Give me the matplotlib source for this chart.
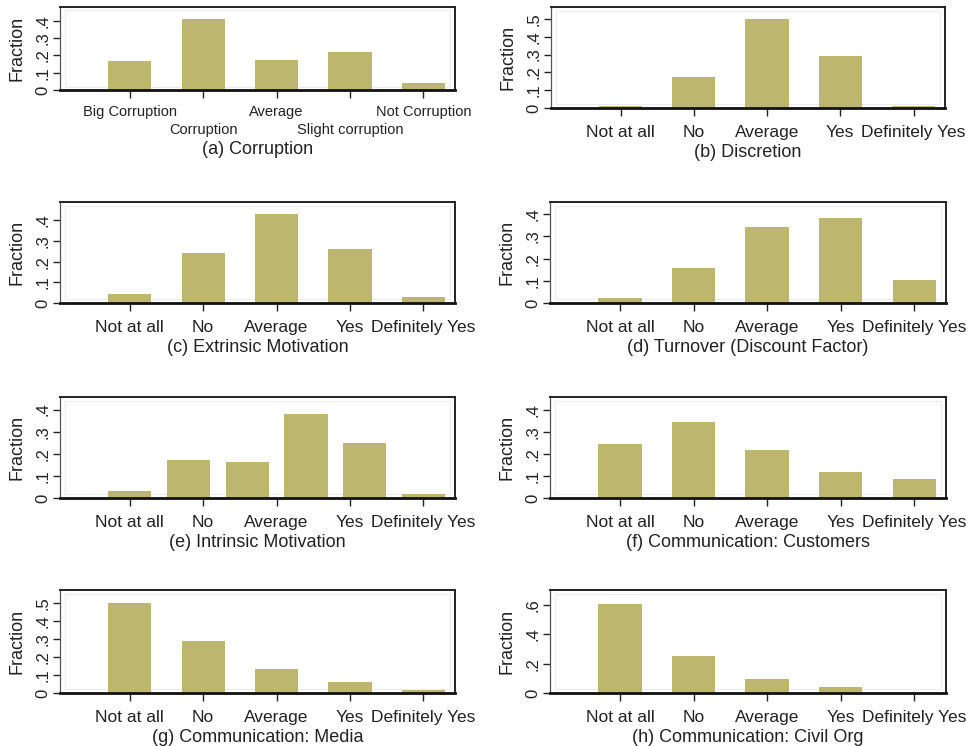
import numpy as np
import matplotlib
matplotlib.use("Agg")
import matplotlib.pyplot as plt
from matplotlib.patches import Rectangle

plt.rcParams['font.family'] = ['Liberation Sans', 'DejaVu Sans']

BAR_COLOR = '#bcb66f'

corruption_cats = ['Big Corruption', 'Corruption', 'Average',
                   'Slight corruption', 'Not Corruption']
yesno_cats = ['Not at all', 'No', 'Average', 'Yes', 'Definitely Yes']

corruption = [0.167, 0.41, 0.173, 0.221, 0.038]
discretion = [0.013, 0.174, 0.502, 0.294, 0.009]
extrinsic = [0.045, 0.24, 0.43, 0.26, 0.027]
turnover = [0.022, 0.157, 0.343, 0.385, 0.104]
intrinsic = [0.03, 0.172, 0.162, 0.382, 0.25, 0.018]
customers = [0.244, 0.348, 0.22, 0.117, 0.085]
media = [0.50, 0.29, 0.133, 0.061, 0.018]
civil_org = [0.607, 0.252, 0.097, 0.04, 0.003]

titles = ['(a) Corruption', '(b) Discretion', '(c) Extrinsic Motivation',
          '(d) Turnover (Discount Factor)', '(e) Intrinsic Motivation',
          '(f) Communication: Customers', '(g) Communication: Media',
          '(h) Communication: Civil Org']

W, H = 973, 746
fig = plt.figure(figsize=(W / 100, H / 100), dpi=100)


def axes_px(left, right, top, bottom):
    return fig.add_axes([left / W, 1 - bottom / H, (right - left) / W, (bottom - top) / H])


def fmt(v):
    s = ('%g' % round(v, 2))
    return s.replace('0.', '.') if v > 0 else '0'


def panel(ax, values, cats, title, ymax, yticks, staggered=False):
    n = len(values)
    xs = np.arange(1, 6) if n == 5 else np.linspace(1, 5, n)
    ax.bar(xs, values, width=0.59, color=BAR_COLOR, edgecolor='none', zorder=2)
    ax.set_xlim(0.05, 5.43)
    ax.set_ylim(0, ymax)
    ax.add_patch(Rectangle((0.012, 0.035), 0.976, 0.93, transform=ax.transAxes,
                           fill=False, edgecolor='#ececec', lw=0.8, zorder=1))
    ax.set_xticks(np.arange(1, 6))
    ax.tick_params(axis='x', length=6, width=1.0, color='#222222')
    if staggered:
        ax.set_xticklabels(cats, fontsize=10.5, color='#222222')
        # alternate labels drop to a second row so they don't collide
        for i, tick in enumerate(ax.xaxis.get_major_ticks()):
            tick.set_pad(5 if i % 2 == 0 else 18)
    else:
        ax.set_xticklabels(cats, fontsize=12.5, color='#222222')
        ax.tick_params(axis='x', pad=6)
    ax.set_yticks(yticks)
    ax.set_yticklabels([fmt(t) for t in yticks], rotation=90, va='center',
                       fontsize=12, color='#222222')
    ax.tick_params(axis='y', length=5, width=1.0, pad=2, color='#222222')
    ax.set_ylabel('Fraction', fontsize=13, labelpad=7, color='#222222')
    ax.set_xlabel(title, fontsize=13, labelpad=3, color='#222222')
    for side in ['top', 'right']:
        ax.spines[side].set_linewidth(1.4)
        ax.spines[side].set_color('#222222')
    ax.spines['left'].set_linewidth(0.9)
    ax.spines['left'].set_color('#555555')
    ax.spines['bottom'].set_linewidth(2.0)
    ax.spines['bottom'].set_color('#111111')


t4 = [0, 0.1, 0.2, 0.3, 0.4]
t5 = [0, 0.1, 0.2, 0.3, 0.4, 0.5]

ax = axes_px(60, 455, 7, 90)
panel(ax, corruption, corruption_cats, titles[0], 0.48, t4, staggered=True)
ax = axes_px(551, 945, 7, 108)
panel(ax, discretion, yesno_cats, titles[1], 0.567, t5)
ax = axes_px(60, 455, 202, 303)
panel(ax, extrinsic, yesno_cats, titles[2], 0.488, t4)
ax = axes_px(550, 946, 202, 303)
panel(ax, turnover, yesno_cats, titles[3], 0.455, t4)
ax = axes_px(60, 455, 397, 498)
panel(ax, intrinsic, yesno_cats, titles[4], 0.457, t4)
ax = axes_px(550, 946, 397, 498)
panel(ax, customers, yesno_cats, titles[5], 0.46, t4)
ax = axes_px(60, 455, 590, 693)
panel(ax, media, yesno_cats, titles[6], 0.574, t5)
ax = axes_px(550, 946, 590, 693)
panel(ax, civil_org, yesno_cats, titles[7], 0.70, [0, 0.2, 0.4, 0.6])

fig.savefig('out.png', dpi=100)
